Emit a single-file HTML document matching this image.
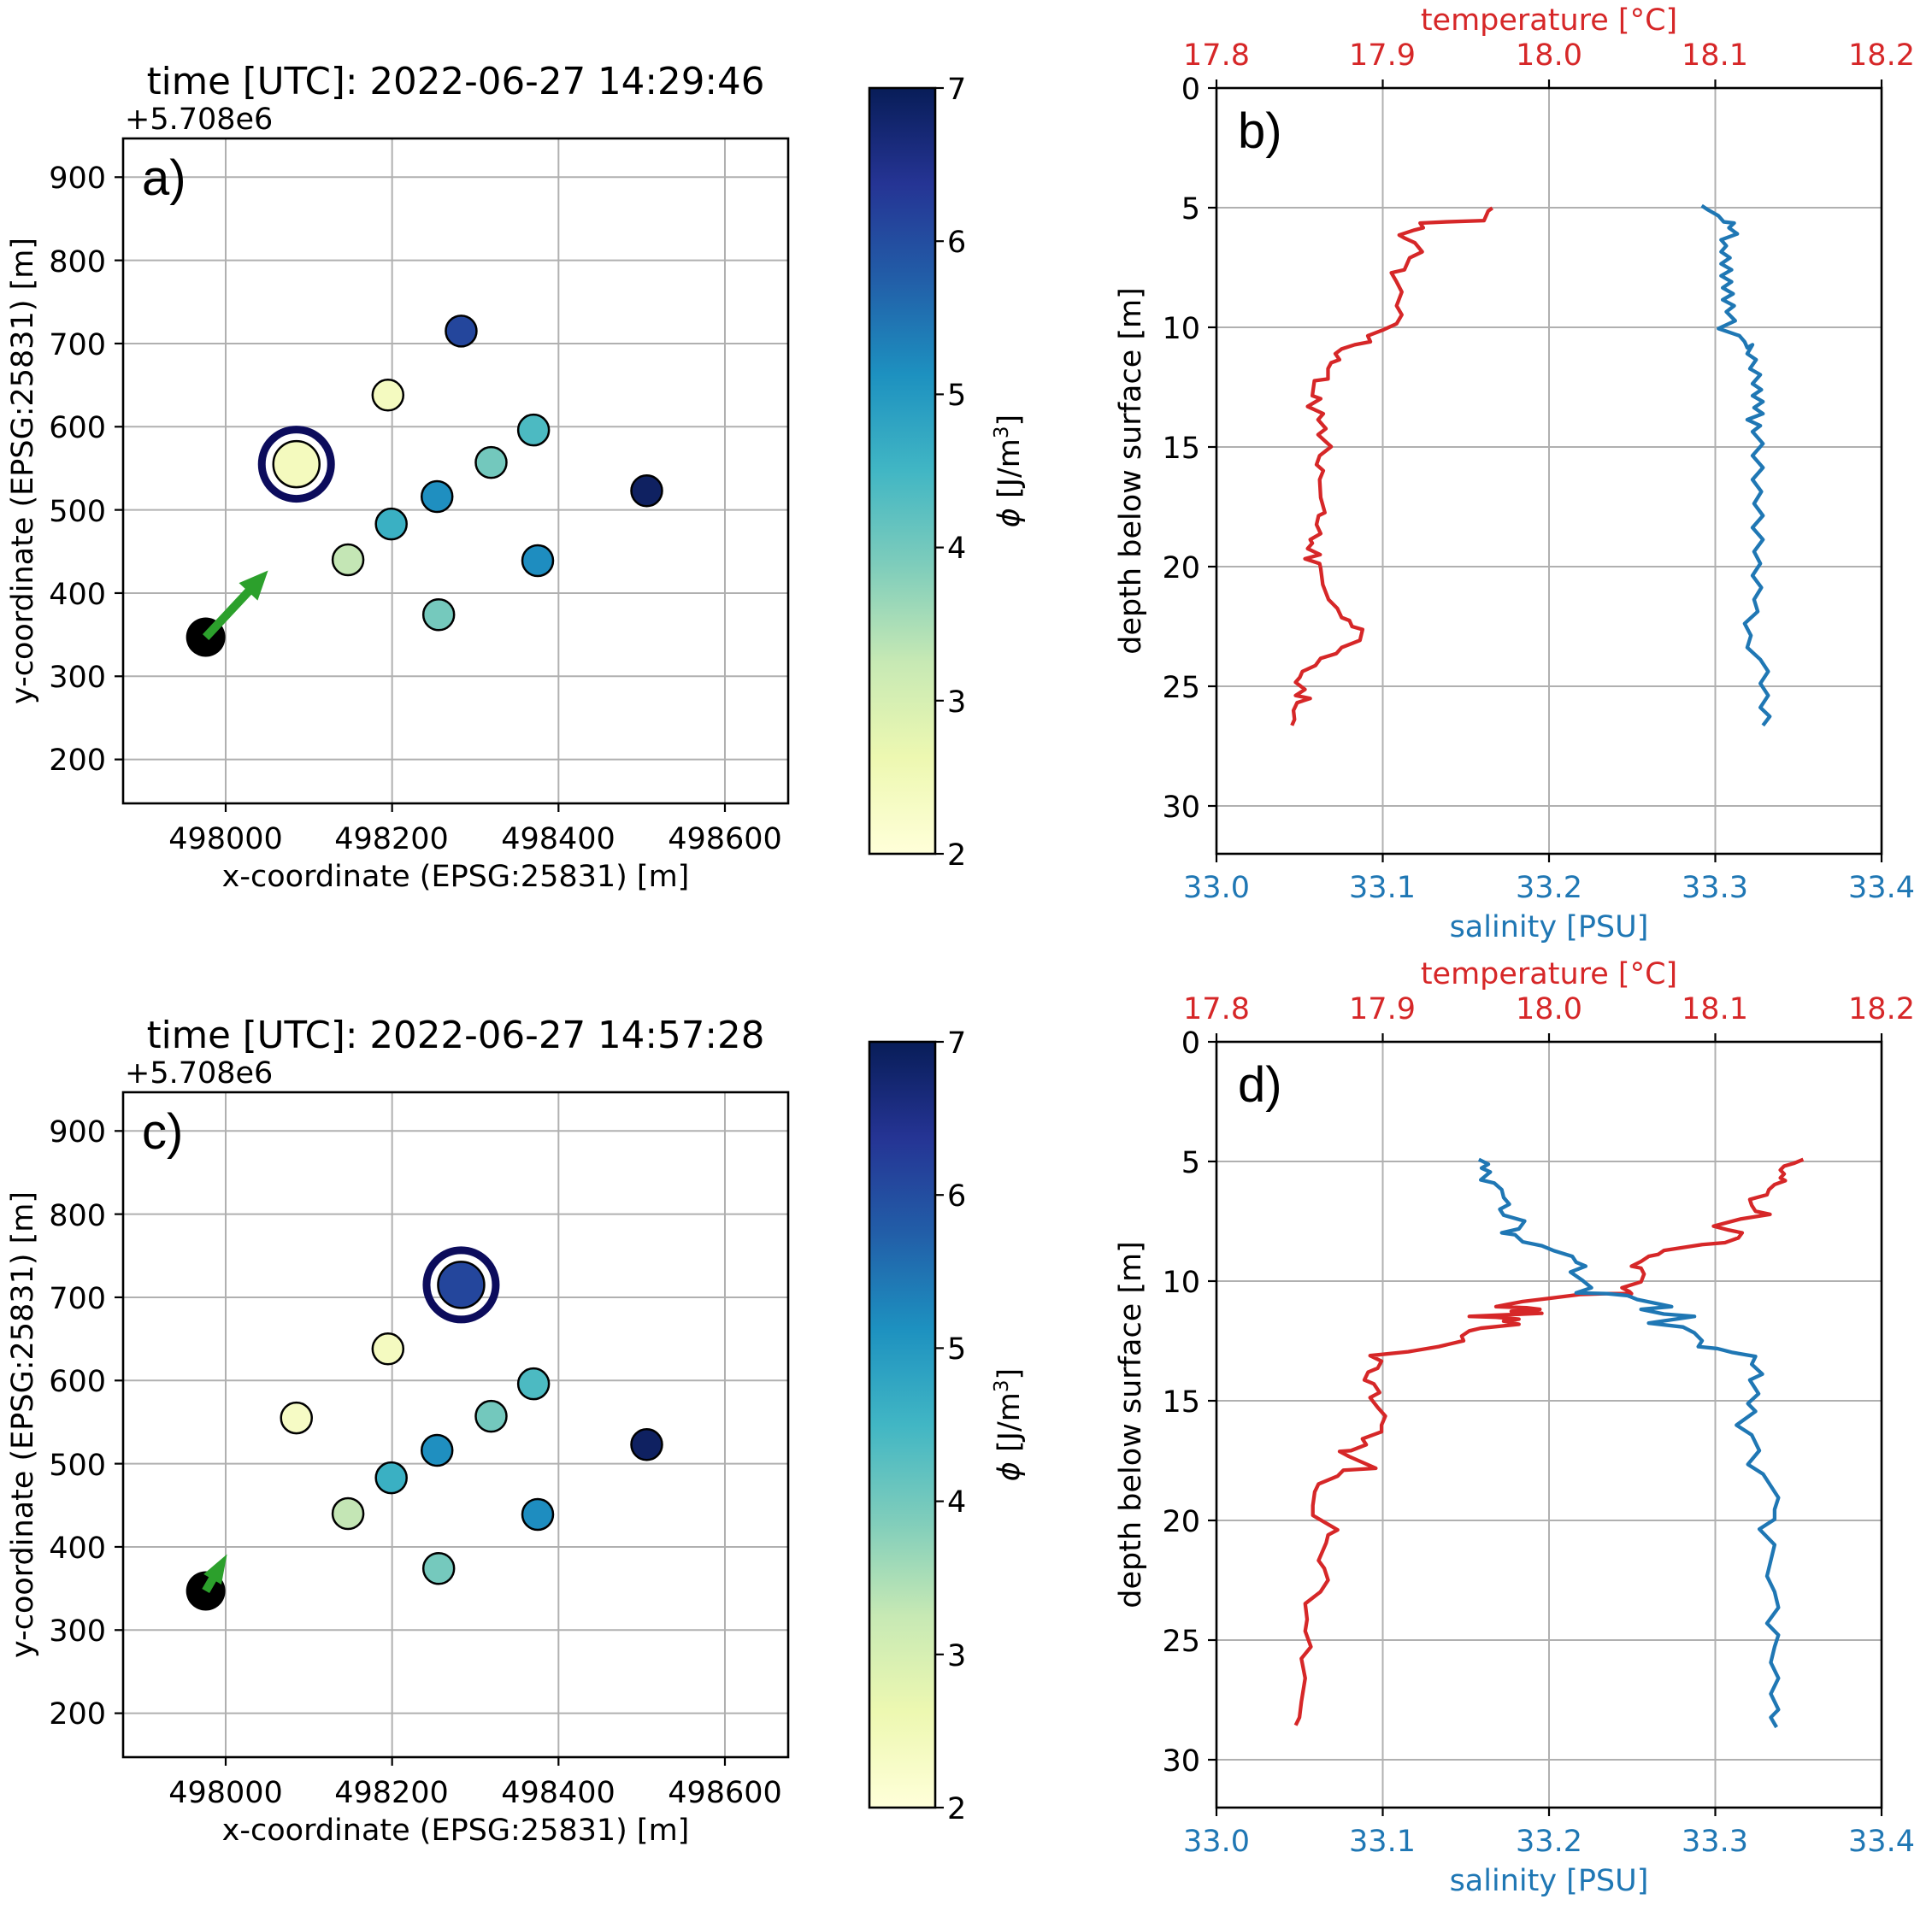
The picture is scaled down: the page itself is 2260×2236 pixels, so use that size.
<!DOCTYPE html>
<html><head><meta charset="utf-8"><style>
html,body{margin:0;padding:0;background:#fff}
svg{display:block}
text{font-family:"DejaVu Sans","Liberation Sans",sans-serif}
.t{font-size:35px}
.tt{font-size:43.5px}
.lt{font-family:"Liberation Sans",sans-serif;font-size:58px}
.r,.r text{fill:#d62728}.b,.b text{fill:#1f77b4}
</style></head><body>
<svg id="s" width="2260" height="2236" viewBox="0 0 2260 2236" xmlns="http://www.w3.org/2000/svg">
<defs><linearGradient id="cb" x1="0" y1="1" x2="0" y2="0">
<stop offset="0" stop-color="#ffffd9"/><stop offset=".125" stop-color="#edf8b1"/><stop offset=".25" stop-color="#c7e9b4"/><stop offset=".375" stop-color="#7fcdbb"/><stop offset=".5" stop-color="#41b6c4"/><stop offset=".625" stop-color="#1d91c0"/><stop offset=".75" stop-color="#225ea8"/><stop offset=".875" stop-color="#253494"/><stop offset="1" stop-color="#081d58"/></linearGradient></defs>
<g id="grids"></g>
<g id="shapes"></g>
<g transform="translate(1300,0) scale(0.61226,0.70151)" fill="none" stroke-width="4.3" stroke-linejoin="round">
<polyline vector-effect="non-scaling-stroke" stroke="#d62728" points="728,347 720,352 712,368 640,370 590,372 596,380 578,384 550,392 560,397 580,405 594,420 570,430 560,450 535,455 545,470 555,487 545,510 555,525 545,540 520,550 490,560 495,570 465,575 440,582 428,590 436,600 420,605 414,615 414,632 388,635 384,660 400,665 375,678 405,690 395,700 410,715 395,725 420,745 398,760 392,775 405,785 398,800 400,830 408,855 396,860 392,875 400,890 380,900 384,906 375,915 399,925 370,932 398,940 400,948 404,975 415,1000 432,1015 440,1030 455,1035 460,1045 480,1050 475,1068 440,1080 430,1090 400,1098 390,1110 365,1120 360,1130 352,1138 370,1150 352,1160 380,1165 355,1172 348,1185 350,1200 345,1210"/>
<polyline vector-effect="non-scaling-stroke" stroke="#1f77b4" points="1128,343 1140,350 1160,360 1170,370 1190,372 1180,380 1196,390 1165,400 1175,410 1165,420 1182,430 1165,440 1185,450 1165,460 1185,470 1168,480 1188,490 1168,500 1190,510 1175,520 1192,535 1160,548 1200,560 1210,570 1215,580 1225,575 1215,590 1232,600 1220,615 1240,625 1225,640 1242,650 1225,660 1245,670 1228,680 1245,690 1215,700 1240,710 1225,720 1245,740 1225,760 1245,780 1225,800 1242,820 1228,840 1245,860 1225,880 1245,900 1228,920 1240,940 1225,960 1242,980 1228,1000 1235,1020 1210,1040 1222,1060 1215,1080 1240,1100 1255,1120 1240,1140 1255,1160 1240,1180 1258,1195 1245,1210"/>
</g>
<g transform="translate(1500,1330) scale(0.44643,0.45914)" fill="none" stroke-width="4.3" stroke-linejoin="round">
<polyline vector-effect="non-scaling-stroke" stroke="#d62728" points="1365,58 1340,68 1315,75 1305,85 1315,95 1305,105 1318,112 1290,122 1275,135 1270,148 1225,160 1230,175 1240,190 1278,198 1200,210 1130,228 1170,238 1205,245 1195,258 1160,270 1100,275 1000,290 985,300 960,305 940,318 915,330 940,335 948,350 940,370 890,385 910,395 915,400 850,400 780,402 700,412 630,420 560,433 640,436 675,440 600,445 680,450 560,455 490,458 560,460 620,465 580,470 620,478 520,488 490,495 470,508 475,520 440,528 410,535 330,548 230,558 260,572 250,590 225,600 215,620 240,630 255,652 230,665 250,690 270,712 260,735 260,752 210,770 220,785 180,800 150,802 175,815 210,830 245,845 160,850 145,865 95,885 85,905 80,940 80,965 115,985 145,1002 120,1015 115,1035 95,1080 110,1100 120,1130 100,1160 60,1190 65,1230 60,1260 75,1300 50,1330 60,1380 50,1440 45,1480 35,1500"/>
<polyline vector-effect="non-scaling-stroke" stroke="#1f77b4" points="515,58 540,70 522,80 545,90 520,110 555,118 575,135 580,155 595,172 570,185 580,200 635,215 620,235 575,245 610,250 630,268 680,278 710,290 760,305 770,320 795,330 755,345 785,365 810,385 770,398 850,400 905,405 930,415 1020,433 940,440 1000,452 1080,458 960,475 1050,485 1080,500 1100,520 1090,535 1140,540 1180,550 1240,560 1230,580 1258,605 1225,620 1248,655 1220,680 1240,700 1190,735 1230,760 1250,800 1220,835 1260,860 1280,890 1300,920 1290,950 1290,975 1250,1000 1290,1040 1280,1080 1270,1120 1290,1160 1300,1200 1270,1240 1300,1270 1290,1300 1280,1340 1300,1380 1280,1420 1300,1460 1280,1480 1295,1505"/>
</g>
<g id="frames"></g>

<!-- Panel a text -->
<text class="tt" x="533" y="110" text-anchor="middle">time [UTC]: 2022-06-27 14:29:46</text>
<text class="t" x="146" y="151">+5.708e6</text>
<text class="lt" x="166" y="228">a)</text>
<g class="t" text-anchor="end">
<text x="124" y="220">900</text><text x="124" y="318">800</text><text x="124" y="415">700</text><text x="124" y="512">600</text><text x="124" y="610">500</text><text x="124" y="707">400</text><text x="124" y="804">300</text><text x="124" y="901">200</text>
</g>
<g class="t" text-anchor="middle">
<text x="264" y="993">498000</text><text x="458" y="993">498200</text><text x="653" y="993">498400</text><text x="848" y="993">498600</text>
<text x="533" y="1037">x-coordinate (EPSG:25831) [m]</text>
</g>
<text class="t" transform="translate(38,551) rotate(-90)" text-anchor="middle">y-coordinate (EPSG:25831) [m]</text>
<g class="t"><text x="1108" y="116">7</text><text x="1108" y="295">6</text><text x="1108" y="474">5</text><text x="1108" y="653">4</text><text x="1108" y="833">3</text><text x="1108" y="1012">2</text></g>
<text class="t" transform="translate(1192,551) rotate(-90)" text-anchor="middle"><tspan font-style="italic">ϕ</tspan> [J/m<tspan font-size="23" dy="-13">3</tspan><tspan dy="13">]</tspan></text>

<!-- Panel c text -->
<text class="tt" x="533" y="1226" text-anchor="middle">time [UTC]: 2022-06-27 14:57:28</text>
<text class="t" x="146" y="1267">+5.708e6</text>
<text class="lt" x="166" y="1344">c)</text>
<g class="t" text-anchor="end">
<text x="124" y="1336">900</text><text x="124" y="1434">800</text><text x="124" y="1531">700</text><text x="124" y="1628">600</text><text x="124" y="1726">500</text><text x="124" y="1823">400</text><text x="124" y="1920">300</text><text x="124" y="2017">200</text>
</g>
<g class="t" text-anchor="middle">
<text x="264" y="2109">498000</text><text x="458" y="2109">498200</text><text x="653" y="2109">498400</text><text x="848" y="2109">498600</text>
<text x="533" y="2153">x-coordinate (EPSG:25831) [m]</text>
</g>
<text class="t" transform="translate(38,1667) rotate(-90)" text-anchor="middle">y-coordinate (EPSG:25831) [m]</text>
<g class="t"><text x="1108" y="1232">7</text><text x="1108" y="1411">6</text><text x="1108" y="1590">5</text><text x="1108" y="1769">4</text><text x="1108" y="1949">3</text><text x="1108" y="2128">2</text></g>
<text class="t" transform="translate(1192,1667) rotate(-90)" text-anchor="middle"><tspan font-style="italic">ϕ</tspan> [J/m<tspan font-size="23" dy="-13">3</tspan><tspan dy="13">]</tspan></text>

<!-- Panel b text -->
<text class="t r" x="1812" y="35" text-anchor="middle">temperature [°C]</text>
<g class="t r" text-anchor="middle"><text x="1423" y="76">17.8</text><text x="1617" y="76">17.9</text><text x="1812" y="76">18.0</text><text x="2006" y="76">18.1</text><text x="2201" y="76">18.2</text></g>
<g class="t b" text-anchor="middle"><text x="1423" y="1050">33.0</text><text x="1617" y="1050">33.1</text><text x="1812" y="1050">33.2</text><text x="2006" y="1050">33.3</text><text x="2201" y="1050">33.4</text>
<text x="1812" y="1096">salinity [PSU]</text></g>
<g class="t" text-anchor="end"><text x="1404" y="116">0</text><text x="1404" y="256">5</text><text x="1404" y="396">10</text><text x="1404" y="536">15</text><text x="1404" y="676">20</text><text x="1404" y="816">25</text><text x="1404" y="956">30</text></g>
<text class="t" transform="translate(1334,551) rotate(-90)" text-anchor="middle">depth below surface [m]</text>
<text class="lt" x="1448" y="173">b)</text>

<!-- Panel d text -->
<text class="t r" x="1812" y="1151" text-anchor="middle">temperature [°C]</text>
<g class="t r" text-anchor="middle"><text x="1423" y="1192">17.8</text><text x="1617" y="1192">17.9</text><text x="1812" y="1192">18.0</text><text x="2006" y="1192">18.1</text><text x="2201" y="1192">18.2</text></g>
<g class="t b" text-anchor="middle"><text x="1423" y="2166">33.0</text><text x="1617" y="2166">33.1</text><text x="1812" y="2166">33.2</text><text x="2006" y="2166">33.3</text><text x="2201" y="2166">33.4</text>
<text x="1812" y="2212">salinity [PSU]</text></g>
<g class="t" text-anchor="end"><text x="1404" y="1232">0</text><text x="1404" y="1372">5</text><text x="1404" y="1512">10</text><text x="1404" y="1652">15</text><text x="1404" y="1792">20</text><text x="1404" y="1932">25</text><text x="1404" y="2072">30</text></g>
<text class="t" transform="translate(1334,1667) rotate(-90)" text-anchor="middle">depth below surface [m]</text>
<text class="lt" x="1448" y="1289">d)</text>
</svg>
<script>
(function(){
var NS="http://www.w3.org/2000/svg";
var G=document.getElementById("grids"),S=document.getElementById("shapes"),F=document.getElementById("frames");
function el(p,t,a){var e=document.createElementNS(NS,t);for(var k in a)e.setAttribute(k,a[k]);p.appendChild(e);return e;}
function line(p,x1,y1,x2,y2,c,w){el(p,"line",{x1:x1,y1:y1,x2:x2,y2:y2,stroke:c,"stroke-width":w});}
var k=0.9733;
function X(x){return 144+(x-497876.7)*k;}
function Y(y,o){return 940+o-(y-147.2)*k;}
var pts=[[498195,638,"#f4fac0"],[498283,715,"#24469c"],[498370,596,"#4cbac2"],[498319,557,"#73c8bd"],[498254,516,"#1f8fc0"],[498199,483,"#3ab0c3"],[498147,440,"#c4e6b5"],[498375,439,"#1e8dc0"],[498256,374,"#75c9bd"],[498506,523,"#0f2161"]];
[0,1116].forEach(function(o,idx){
 [498000,498200,498400,498600].forEach(function(v){line(G,X(v),162+o,X(v),940+o,"#b0b0b0",2);line(F,X(v),940+o,X(v),950+o,"#000",2.2);});
 for(var v=200;v<=900;v+=100){line(G,144,Y(v,o),922,Y(v,o),"#b0b0b0",2);line(F,134,Y(v,o),144,Y(v,o),"#000",2.2);}
 el(F,"rect",{x:144,y:162+o,width:778,height:778,fill:"none",stroke:"#000","stroke-width":2.6});
 el(F,"rect",{x:1017,y:103+o,width:77,height:896,fill:"url(#cb)",stroke:"#000","stroke-width":2.6});
 for(var i=0;i<6;i++){var yy=999+o-i*179.2;line(F,1094,yy,1104,yy,"#000",2.2);}
 for(var j=0;j<5;j++){var xx=1423+j*194.5;line(G,xx,103+o,xx,999+o,"#b0b0b0",2);line(F,xx,93+o,xx,103+o,"#000",2.2);line(F,xx,999+o,xx,1009+o,"#000",2.2);}
 for(var d=0;d<=30;d+=5){var yy=103+o+d*28;line(G,1423,yy,2201,yy,"#b0b0b0",2);line(F,1413,yy,1423,yy,"#000",2.2);}
 el(F,"rect",{x:1423,y:103+o,width:778,height:896,fill:"none",stroke:"#000","stroke-width":2.6});
 var bx=X(497976),by=Y(347,o);
 el(S,"circle",{cx:bx,cy:by,r:23,fill:"#000"});
 pts.forEach(function(p,n){
   if(idx==1&&n==1){el(S,"circle",{cx:X(p[0]),cy:Y(p[1],o),r:40.5,fill:"none",stroke:"#0c0c5c","stroke-width":9});el(S,"circle",{cx:X(p[0]),cy:Y(p[1],o),r:27,fill:p[2],stroke:"#000","stroke-width":2.5});}
   else el(S,"circle",{cx:X(p[0]),cy:Y(p[1],o),r:18,fill:p[2],stroke:"#000","stroke-width":2.5});
 });
 if(idx==0){el(S,"circle",{cx:X(498085),cy:Y(555,o),r:40.5,fill:"none",stroke:"#0c0c5c","stroke-width":9});el(S,"circle",{cx:X(498085),cy:Y(555,o),r:27,fill:"#f4fabe",stroke:"#000","stroke-width":2.5});}
 else el(S,"circle",{cx:X(498085),cy:Y(555,o),r:18,fill:"#f6fbc5",stroke:"#000","stroke-width":2.5});
 var dx=idx==0?73:25,dy=idx==0?-78:-43;
 var L=Math.sqrt(dx*dx+dy*dy),ux=dx/L,uy=dy/L,nx=-uy,ny=ux;
 var hl=Math.min(34,L*0.85),hw=idx==0?15:12,sw=5;
 var bx2=bx+ux*(L-hl),by2=by+uy*(L-hl);
 var P=[[bx+nx*sw,by+ny*sw],[bx2+nx*sw,by2+ny*sw],[bx2+nx*hw,by2+ny*hw],[bx+dx,by+dy],[bx2-nx*hw,by2-ny*hw],[bx2-nx*sw,by2-ny*sw],[bx-nx*sw,by-ny*sw]];
 el(S,"polygon",{points:P.map(function(q){return q[0].toFixed(1)+","+q[1].toFixed(1)}).join(" "),fill:"#2ca02c"});
});
})();
</script>
</body></html>
